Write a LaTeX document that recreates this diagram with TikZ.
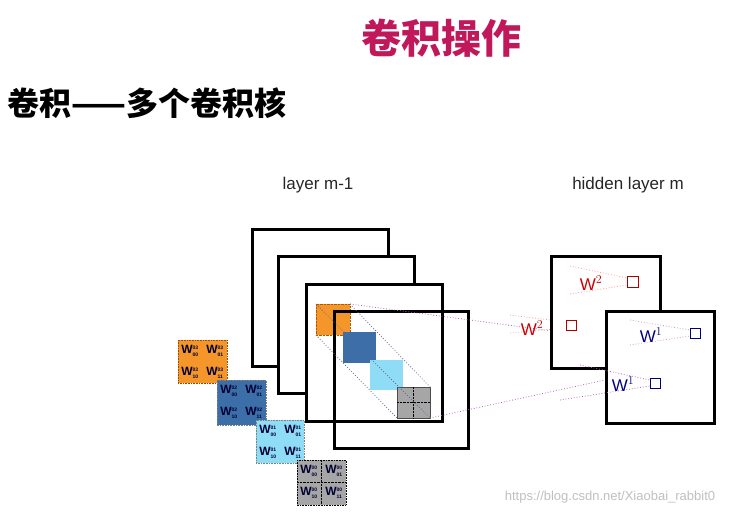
\documentclass[tikz,border=0pt]{standalone}
\usepackage{fontspec}
\setmainfont{Liberation Sans}
\newfontfamily\cjk{Noto Sans CJK SC}
\definecolor{dblue}{HTML}{3C6EA8}
\definecolor{lblue}{HTML}{8EDCF6}
\definecolor{korange}{HTML}{F5962A}
\begin{document}
\begin{tikzpicture}[x=1pt,y=-1pt,
  frame/.style={draw=black,line width=2.6pt,fill=white},
  dotl/.style={dotted,line width=0.8pt},
  kern/.style={draw=black!50,densely dotted,line width=0.6pt},
  wk/.style={font=\bfseries\fontsize{12}{12}\selectfont,text=black!80!blue,inner sep=0},
  lbl/.style={font=\fontsize{17}{17}\selectfont,text=black!85}]
\useasboundingbox (0,0) rectangle (748,515);
\node (t1) at (441,38) {\cjk\bfseries\fontsize{40}{40}\selectfont\color[HTML]{C0185A}卷积操作};
\node[anchor=west] (t2) at (4,103) {\cjk\bfseries\fontsize{32}{32}\selectfont 卷积——多个卷积核};
\node[lbl] (l1) at (318,185) {layer m-1};
\node[lbl] (l2) at (628,185) {hidden layer m};
% layer squares
\node[frame,minimum width=136,minimum height=137,inner sep=0,anchor=north west] (s1) at (251,228) {};
\node[frame,minimum width=136,minimum height=137,inner sep=0,anchor=north west] (s2) at (277,255) {};
\node[frame,minimum width=136,minimum height=137,inner sep=0,anchor=north west] (s3) at (305,283) {};
% patches
\fill[korange,draw=orange!70!black,densely dotted] (316,304) rectangle (350,335);
\node[frame,minimum width=134,minimum height=137,inner sep=0,anchor=north west,fill=none] (s4) at (333,310) {};
\fill[dblue] (343,332) rectangle (376,363);
\fill[lblue] (370,360) rectangle (403,390);
\filldraw[fill=gray!70,draw=black!70] (397,387) rectangle (430,418);
\draw[densely dotted,black] (413.5,387)--(413.5,418) (397,402.5)--(430,402.5);
\draw[dotl,blue!40!black!60] (316,304)--(430,418) (316,335)--(397,418) (350,304)--(430,387);
\draw[dotl,violet!60] (350,304)--(605,338) (430,418)--(605,380);
% kernels
\filldraw[kern,fill=korange,draw=orange!60!black] (178,340) rectangle (227,383);
\filldraw[kern,fill=dblue] (217,380) rectangle (266,425);
\filldraw[kern,fill=lblue] (256,420) rectangle (304,463);
\filldraw[kern,fill=gray!70,draw=black] (297,460) rectangle (346,505);
\draw[densely dotted] (321.5,460)--(321.5,505) (297,482.5)--(346,482.5);
\foreach \x/\y/\s in {178/340/03,217/380/02,256/420/01,297/460/00}{
  \node[wk] at (\x+12,\y+11) {W$^{\mbox{\tiny\s}}_{\mbox{\tiny 00}}$};
  \node[wk] at (\x+37,\y+11) {W$^{\mbox{\tiny\s}}_{\mbox{\tiny 01}}$};
  \node[wk] at (\x+12,\y+33) {W$^{\mbox{\tiny\s}}_{\mbox{\tiny 10}}$};
  \node[wk] at (\x+37,\y+33) {W$^{\mbox{\tiny\s}}_{\mbox{\tiny 11}}$};
}
% hidden layer
\draw[dotl,red!40] (510,315)--(566,322) (510,333)--(566,328);
\node[frame,minimum width=109,minimum height=112,inner sep=0,anchor=north west] (h1) at (550,255) {};
\draw[dotl,red!40] (570,266)--(627,278) (570,294)--(627,285);
\node[frame,minimum width=108,minimum height=112,inner sep=0,anchor=north west] (h2) at (605,310) {};
\draw[dotl,violet!60] (580,365)--(650,380) (560,400)--(650,386);
\draw[dotl,violet!40] (630,320)--(690,330) (630,345)--(690,336);
\draw[red!70!black,line width=1pt] (627,276) rectangle (638,287) (566,320) rectangle (576,330);
\draw[blue!50!black,line width=1pt] (690,328) rectangle (700,338) (650,378) rectangle (660,388);
\node[text=red!80!black,font=\fontsize{17}{17}\selectfont] (w2a) at (591,283) {W$^2$};
\node[text=red!80!black,font=\fontsize{17}{17}\selectfont] (w2b) at (532,328) {W$^2$};
\node[text=blue!50!black,font=\fontsize{17}{17}\selectfont] (w1a) at (651,335) {W$^1$};
\node[text=blue!50!black,font=\fontsize{17}{17}\selectfont] (w1b) at (623,384) {W$^1$};
\node[text=black!25,font=\fontsize{13}{13}\selectfont] (wm) at (610,497) {https://blog.csdn.net/Xiaobai\_rabbit0};
\end{tikzpicture}
\end{document}
